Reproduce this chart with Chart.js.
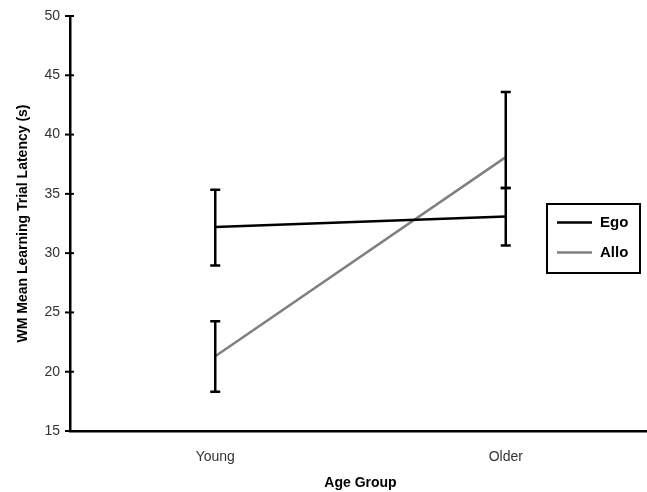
<!DOCTYPE html>
<html><head><meta charset="utf-8">
<script src="https://cdn.jsdelivr.net/npm/chart.js@4"></script>
<style>html,body{margin:0;padding:0;background:#fff;overflow:hidden}#wrap{width:647px;height:492px;overflow:hidden}</style>
</head><body><div id="wrap"><canvas id="c" width="651" height="492"></canvas></div>
<script>
const categories = ["Young", "Older"];
const egoMeans = [32.2, 33.1];
const egoErrLow = [3.25, 2.45];
const egoErrHigh = [3.15, 2.4];
const alloMeans = [21.3, 38.1];
const alloErrLow = [3.0, 2.6];
const alloErrHigh = [2.95, 5.5];
const yTicks = [15, 20, 25, 30, 35, 40, 45, 50];

const FONT = '"Liberation Sans", Arial, sans-serif';

const errorBars = {
  id: 'errorBars',
  afterDatasetsDraw(chart) {
    const ctx = chart.ctx, y = chart.scales.y;
    const lows = [egoErrLow, alloErrLow], highs = [egoErrHigh, alloErrHigh];
    ctx.save();
    ctx.strokeStyle = '#000'; ctx.lineWidth = 2.5; ctx.lineCap = 'butt';
    chart.data.datasets.forEach((ds, di) => {
      const meta = chart.getDatasetMeta(di);
      meta.data.forEach((pt, i) => {
        const v = ds.data[i];
        const x = pt.x, yt = y.getPixelForValue(v + highs[di][i]), yb = y.getPixelForValue(v - lows[di][i]);
        ctx.beginPath();
        ctx.moveTo(x, yt); ctx.lineTo(x, yb);
        ctx.moveTo(x - 5, yt); ctx.lineTo(x + 5, yt);
        ctx.moveTo(x - 5, yb); ctx.lineTo(x + 5, yb);
        ctx.stroke();
      });
    });
    ctx.restore();
  }
};

const legendBox = {
  id: 'legendBox',
  afterDraw(chart) {
    const ctx = chart.ctx;
    ctx.save();
    ctx.strokeStyle = '#000'; ctx.lineWidth = 2;
    ctx.strokeRect(547, 204, 93, 69);
    ctx.font = 'bold 15px ' + FONT;
    ctx.textBaseline = 'middle';
    chart.data.datasets.forEach((ds, i) => {
      const yy = 222.5 + i * 30;
      ctx.strokeStyle = ds.borderColor; ctx.lineWidth = 2.5;
      ctx.beginPath(); ctx.moveTo(557, yy); ctx.lineTo(592, yy); ctx.stroke();
      ctx.fillStyle = '#000';
      ctx.fillText(ds.label, 600, yy);
    });
    ctx.restore();
  }
};

const yTickMarks = {
  id: 'yTickMarks',
  afterDraw(chart) {
    const ctx = chart.ctx, y = chart.scales.y, x0 = chart.chartArea.left;
    ctx.save(); ctx.strokeStyle = '#000'; ctx.lineWidth = 2;
    yTicks.forEach(t => {
      const p = y.getPixelForValue(t);
      ctx.beginPath(); ctx.moveTo(x0 - 5, p); ctx.lineTo(x0 + 4, p); ctx.stroke();
    });
    ctx.restore();
  }
};

new Chart(document.getElementById('c'), {
  type: 'line',
  data: {
    labels: categories,
    datasets: [
      { label: 'Ego', data: egoMeans, borderColor: '#000', borderWidth: 2.5, pointRadius: 0, fill: false, tension: 0 },
      { label: 'Allo', data: alloMeans, borderColor: '#808080', borderWidth: 2.5, pointRadius: 0, fill: false, tension: 0 }
    ]
  },
  plugins: [errorBars, legendBox, yTickMarks],
  options: {
    responsive: false,
    animation: false,
    layout: { padding: { top: 16, right: 0, bottom: 0, left: 15 } },
    plugins: { legend: { display: false }, tooltip: { enabled: false } },
    scales: {
      x: {
        offset: true,
        grid: { display: false },
        border: { color: '#000', width: 2.5 },
        ticks: { color: '#333', font: { family: FONT, size: 14 }, padding: 10 },
        title: { display: true, text: 'Age Group', color: '#000', font: { family: FONT, size: 14, weight: 'bold' }, padding: { top: 0, bottom: 0 } },
        afterFit(s) { s.height = 61; }
      },
      y: {
        min: 15, max: 50,
        afterBuildTicks(s) { s.ticks = yTicks.map(v => ({ value: v })); },
        grid: { display: false },
        border: { color: '#000', width: 2.5 },
        ticks: { color: '#333', font: { family: FONT, size: 14 }, padding: 2 },
        title: { display: true, text: 'WM Mean Learning Trial Latency (s)', color: '#000', font: { family: FONT, size: 14, weight: 'bold' }, padding: 0 },
        afterFit(s) { s.width = 55; }
      }
    }
  }
});
</script>
</body></html>
